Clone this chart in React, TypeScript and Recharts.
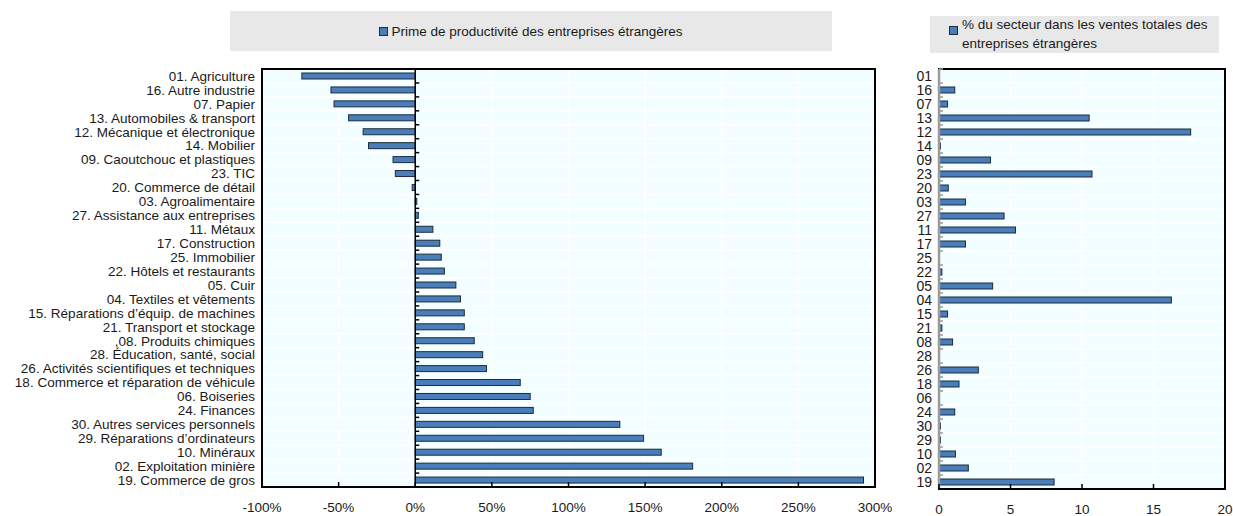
import React from 'react';
import { BarChart, Bar, XAxis, YAxis, CartesianGrid, ReferenceLine, ReferenceArea } from 'recharts';

const sectorLabels = [
  '01. Agriculture',
  '16. Autre industrie',
  '07. Papier',
  '13. Automobiles & transport',
  '12. Mécanique et électronique',
  '14. Mobilier',
  '09. Caoutchouc et plastiques',
  '23. TIC',
  '20. Commerce de détail',
  '03. Agroalimentaire',
  '27. Assistance aux entreprises',
  '11. Métaux',
  '17. Construction',
  '25. Immobilier',
  '22. Hôtels et restaurants',
  '05. Cuir',
  '04. Textiles et vêtements',
  '15. Réparations d’équip. de machines',
  '21. Transport et stockage',
  ',08. Produits chimiques',
  '28. Éducation, santé, social',
  '26. Activités scientifiques et techniques',
  '18. Commerce et réparation de véhicule',
  '06. Boiseries',
  '24. Finances',
  '30. Autres services personnels',
  '29. Réparations d’ordinateurs',
  '10. Minéraux',
  '02. Exploitation minière',
  '19. Commerce de gros',
];

const sectorCodes = [
  '01', '16', '07', '13', '12', '14', '09', '23', '20', '03',
  '27', '11', '17', '25', '22', '05', '04', '15', '21', '08',
  '28', '26', '18', '06', '24', '30', '29', '10', '02', '19',
];

const productivityPremium = [
  -74, -55, -53, -43.5, -34, -30.5, -14.5, -13, -2, 1,
  2, 11.5, 16, 17, 19, 26.5, 29.5, 32, 32, 38.5,
  44, 46.5, 68.5, 75, 77, 133.5, 149, 160.5, 181, 292.5,
];

const salesShare = [
  0, 1.1, 0.6, 10.5, 17.6, 0.1, 3.6, 10.7, 0.65, 1.85,
  4.55, 5.35, 1.85, 0, 0.2, 3.75, 16.25, 0.6, 0.2, 0.95,
  0, 2.75, 1.4, 0, 1.1, 0.1, 0.1, 1.15, 2.05, 8.05,
];

const premiumTicks = [-100, -50, 0, 50, 100, 150, 200, 250, 300];
const shareTicks = [0, 5, 10, 15, 20];

const premiumLegend = 'Prime de productivité des entreprises étrangères';
const shareLegendLines = ['% du secteur dans les ventes totales des', 'entreprises étrangères'];

const premiumData = sectorLabels.map((label, i) => ({ label, value: productivityPremium[i] }));
const shareData = sectorCodes.map((code, i) => ({ code, value: salesShare[i] }));

const FONT = '"Liberation Sans", Arial, Helvetica, sans-serif';
const BAR_FILL = '#4A7EBB';
const BAR_STROKE = '#1E2B3A';
const PLOT_BG = '#F2FEFF';
const TEXT = '#1a1a1a';
const LEGEND_BG = '#E8E8E8';
const AXIS_GRAY = '#9a9a9a';

const N = sectorLabels.length;

// layout constants
const L_W = 910;
const L_TOP = 69;
const L_BOTTOM_AXIS = 29;
const L_YAXIS_W = 262;
const L_RIGHT = 35;

const R_LEFT_POS = 880;
const R_W = 353;
const R_TOP = 69;
const R_BOTTOM_AXIS = 27;
const R_YAXIS_W = 59;
const R_RIGHT = 8;

const H = 516;

function makeBarShape(tickColor: string, plotH: number) {
  const band = plotH / N;
  return (props: any) => {
    const { x, y, width, height, payload } = props;
    const left = Math.min(x, x + width);
    const w = Math.abs(width);
    const zeroX = payload.value < 0 ? left + w : left;
    const bandTop = y + height / 2 - band / 2;
    return (
      <g>
        {w > 0 ? (
          <rect x={left} y={y} width={w} height={height} fill={BAR_FILL} stroke={BAR_STROKE} strokeWidth={1} />
        ) : null}
        <line x1={zeroX} x2={zeroX + 4} y1={bandTop} y2={bandTop} stroke={tickColor} strokeWidth={1.5} />
      </g>
    );
  };
}

function makeXTick(fmt: (v: number) => string, dy: number) {
  return (props: any) => {
    const { x, y, payload } = props;
    return (
      <g>
        <line x1={x} x2={x} y1={y} y2={y - 5} stroke="#000" strokeWidth={1.5} />
        <text x={x} y={y + dy} textAnchor="middle" fontSize={13.5} fontFamily={FONT} fill={TEXT}>
          {fmt(payload.value)}
        </text>
      </g>
    );
  };
}

function makeYTick(size: number) {
  return (props: any) => {
    const { x, y, payload } = props;
    return (
      <text x={x} y={y} dy="0.36em" textAnchor="end" fontSize={size} fontFamily={FONT} fill={TEXT}>
        {payload.value}
      </text>
    );
  };
}

const boundaryGenerator = ({ offset }: any) => {
  const out: number[] = [];
  for (let i = 1; i < N; i++) out.push(offset.top + (i * offset.height) / N);
  return out;
};

const Marker = () => (
  <svg width={9} height={9} style={{ display: 'inline-block', verticalAlign: 'middle' }}>
    <rect x={0.5} y={0.5} width={8} height={8} fill={BAR_FILL} stroke={BAR_STROKE} strokeWidth={1} />
  </svg>
);

export default function App() {
  const lPlotH = H - L_TOP - L_BOTTOM_AXIS;
  const rPlotH = H - R_TOP - R_BOTTOM_AXIS;
  return (
    <div style={{ position: 'absolute', left: 0, top: 0, width: 1233, height: H, background: '#fff', fontFamily: FONT }}>
      {/* left legend */}
      <div
        style={{
          position: 'absolute', left: 230, top: 11, width: 602, height: 40, background: LEGEND_BG,
          display: 'flex', alignItems: 'center', justifyContent: 'center', fontSize: 13.5, color: TEXT,
        }}
      >
        <span style={{ display: 'inline-flex', alignItems: 'center', gap: 3 }}>
          <Marker />
          <span>{premiumLegend}</span>
        </span>
      </div>
      {/* right legend */}
      <div
        style={{
          position: 'absolute', left: 930, top: 16, width: 289, height: 37, background: LEGEND_BG,
          fontSize: 13.5, color: TEXT, lineHeight: '19px',
        }}
      >
        <div style={{ position: 'absolute', left: 19, top: 4 }}>
          <Marker />
        </div>
        <div style={{ position: 'absolute', left: 32, top: -1, whiteSpace: 'nowrap' }}>
          {shareLegendLines.map((t) => (
            <div key={t}>{t}</div>
          ))}
        </div>
      </div>

      <div style={{ position: 'absolute', left: 0, top: 0 }}>
        <BarChart
          width={L_W}
          height={H}
          layout="vertical"
          data={premiumData}
          margin={{ top: L_TOP, right: L_RIGHT, bottom: 0, left: 0 }}
          barSize={6}
        >
          <CartesianGrid
            fill={PLOT_BG}
            stroke="#ffffff"
            strokeWidth={1.5}
            horizontalCoordinatesGenerator={boundaryGenerator}
          />
          <XAxis
            type="number"
            domain={[-100, 300]}
            ticks={premiumTicks}
            interval={0}
            allowDataOverflow
            height={L_BOTTOM_AXIS}
            tickSize={0}
            tickMargin={0}
            tickLine={false}
            axisLine={{ stroke: '#000', strokeWidth: 2 }}
            tick={makeXTick((v) => `${v}%`, 24.5)}
          />
          <YAxis
            type="category"
            dataKey="label"
            width={L_YAXIS_W}
            interval={0}
            tickSize={0}
            tickMargin={7}
            tickLine={false}
            axisLine={{ stroke: '#000', strokeWidth: 2 }}
            tick={makeYTick(13.5)}
          />
          <ReferenceArea x1={-100} x2={300} fill="none" fillOpacity={0} stroke="#000" strokeWidth={2} ifOverflow="visible" />
          <ReferenceLine x={0} stroke="#000" strokeWidth={1.5} />
          <Bar dataKey="value" isAnimationActive={false} shape={makeBarShape('#000', lPlotH)} />
        </BarChart>
      </div>

      <div style={{ position: 'absolute', left: R_LEFT_POS, top: 0 }}>
        <BarChart
          width={R_W}
          height={H}
          layout="vertical"
          data={shareData}
          margin={{ top: R_TOP, right: R_RIGHT, bottom: 0, left: 0 }}
          barSize={6}
        >
          <CartesianGrid
            fill={PLOT_BG}
            stroke="#ffffff"
            strokeWidth={1.5}
            horizontalCoordinatesGenerator={boundaryGenerator}
          />
          <XAxis
            type="number"
            domain={[0, 20]}
            ticks={shareTicks}
            interval={0}
            allowDataOverflow
            height={R_BOTTOM_AXIS}
            tickSize={0}
            tickMargin={0}
            tickLine={false}
            axisLine={{ stroke: '#000', strokeWidth: 2 }}
            tick={makeXTick((v) => `${v}`, 24.5)}
          />
          <YAxis
            type="category"
            dataKey="code"
            width={R_YAXIS_W}
            interval={0}
            tickSize={0}
            tickMargin={7}
            tickLine={false}
            axisLine={false}
            tick={makeYTick(14)}
          />
          <ReferenceArea x1={0} x2={20} fill="none" fillOpacity={0} stroke="#000" strokeWidth={2} ifOverflow="visible" />
          <ReferenceLine x={0} stroke={AXIS_GRAY} strokeWidth={2.5} />
          <Bar dataKey="value" isAnimationActive={false} shape={makeBarShape(AXIS_GRAY, rPlotH)} />
        </BarChart>
      </div>
    </div>
  );
}
